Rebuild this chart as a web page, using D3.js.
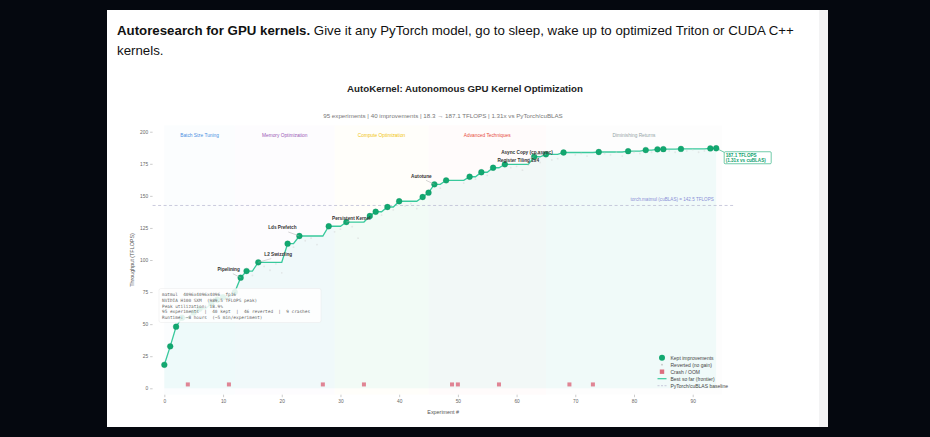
<!DOCTYPE html>
<html>
<head>
<meta charset="utf-8">
<script src="https://cdn.jsdelivr.net/npm/d3@7"></script>
<style>
  html, body { margin: 0; padding: 0; background: #05080f; }
  svg { display: block; }
</style>
</head>
<body>
<div id="chart"></div>
<script>
// ---- data ----
var keptExp = [0, 1, 2, 3, 5, 6, 8, 9, 10, 12, 13, 14, 16, 21, 23, 28, 31, 35, 36, 38,
  40, 44, 45, 46, 48, 52, 54, 56, 58, 63, 65, 68, 74, 79, 82, 84, 85, 88, 93, 94];
var keptVal = [18.3, 32.7, 48.0, 55, 59, 62, 66, 69, 71, 75, 86.2, 91.4, 98.2, 112.7, 118.7, 126.3, 129.6, 134.3, 137.6, 141.3,
  145.8, 149.1, 152.5, 159.0, 162.1, 164.9, 168.4, 171.9, 174.6, 180.5, 182.4, 183.8, 184.2, 184.8, 185.7, 186.3, 186.4, 186.6, 187.0, 187.1];

var revertedExp = [7, 15, 17, 18, 19, 20, 22, 24, 25, 26, 29, 30, 32, 33, 37, 39, 41, 42, 43, 47,
  51, 53, 55, 59, 60, 61, 62, 64, 66, 67, 70, 71, 72, 75, 76, 77, 78, 80, 81, 83, 86, 87, 89, 90, 91, 92];
var revertedVal = [60, 88, 95, 92, 97, 90, 110, 115, 117, 112, 122, 124, 126, 117, 135, 139, 142, 144, 140, 156,
  160, 163, 166, 172, 173, 170, 174, 176, 178, 179, 182, 183, 181, 183, 182, 184, 181, 184, 183, 184, 185, 184, 185, 186, 184, 185];

var crashExp = [4, 11, 27, 34, 49, 50, 57, 69, 73];
var crashLevel = 3;

var baselineVal = 142.5;
var totalExp = 95;

var phaseNames = ["Batch Size Tuning", "Memory Optimization", "Compute Optimization", "Advanced Techniques", "Diminishing Returns"];
var phaseStart = [0, 12, 29, 45, 65];
var phaseEnd = [12, 29, 45, 65, 95];

var annotExp = [13, 16, 23, 31, 46, 63, 65];
var annotText = ["Pipelining", "L2 Swizzling", "Lds Prefetch", "Persistent Kernel", "Autotune", "Register Tiling 2x4", "Async Copy (cp.async)"];

var xTicks = [0, 10, 20, 30, 40, 50, 60, 70, 80, 90];
var yTicks = [0, 25, 50, 75, 100, 125, 150, 175, 200];

var infoLines = [
  "matmul  4096x4096x4096  fp16",
  "NVIDIA H100 SXM  (989.5 TFLOPS peak)",
  "Peak utilization: 18.9%",
  "95 experiments  |  40 kept  |  46 reverted  |  9 crashes",
  "Runtime: ~8 hours  (~5 min/experiment)"
];

var legendLabels = ["Kept improvements", "Reverted (no gain)", "Crash / OOM", "Best so far (frontier)", "PyTorch/cuBLAS baseline"];

// ---- styles / layout ----
var phaseColors = ["#4a90e2", "#9b59b6", "#f1c40f", "#e74c3c", "#95a5a6"];
var green = "#12a870";
var lineGreen = "#38c99c";
var fillCyan = "#5fd6d2";
var crashRed = "#d9536a";
var sans = "'Liberation Sans', Arial, sans-serif";
var mono = "'DejaVu Sans Mono', 'Liberation Mono', monospace";

// label offsets from the annotated point (px)
var annotOffset = [[-12, -8.5], [20, -8], [-17, -8.5], [5, -3.5], [-13, -8.5], [-16, 4], [-19, -1.6]];

var svgWidth = 930;
var svgHeight = 437;

var svg = d3.select("#chart")
  .append("svg")
  .attr("width", svgWidth)
  .attr("height", svgHeight);

svg.append("rect")
  .attr("width", svgWidth).attr("height", svgHeight)
  .attr("fill", "#05080f");

// white card
svg.append("rect")
  .attr("x", 107).attr("y", 10)
  .attr("width", 721).attr("height", 417)
  .attr("fill", "#ffffff");
svg.append("rect")
  .attr("x", 819).attr("y", 10)
  .attr("width", 9).attr("height", 417)
  .attr("fill", "#f3f3f4");

function fitWidth(sel, w) {
  var len = sel.node().getComputedTextLength();
  var fs = parseFloat(sel.attr("font-size"));
  sel.attr("font-size", fs * w / len);
}

// header text
var head = svg.append("text")
  .attr("x", 117).attr("y", 34.5)
  .attr("font-family", sans)
  .attr("font-size", 15)
  .attr("fill", "#111");
head.append("tspan").attr("font-weight", "bold").text("Autoresearch for GPU kernels.");
head.append("tspan").text(" Give it any PyTorch model, go to sleep, wake up to optimized Triton or CUDA C++");
fitWidth(head, 678);

svg.append("text")
  .attr("x", 117).attr("y", 54.5)
  .attr("font-family", sans)
  .attr("font-size", head.attr("font-size"))
  .attr("fill", "#111")
  .text("kernels.");

// chart title + subtitle
var title = svg.append("text")
  .attr("x", 465).attr("y", 91.5)
  .attr("text-anchor", "middle")
  .attr("font-family", sans)
  .attr("font-weight", "bold")
  .attr("font-size", 10)
  .attr("fill", "#222")
  .text("AutoKernel: Autonomous GPU Kernel Optimization");
fitWidth(title, 236);

var subtitle = svg.append("text")
  .attr("x", 443).attr("y", 118)
  .attr("text-anchor", "middle")
  .attr("font-family", sans)
  .attr("font-size", 5.3)
  .attr("fill", "#777")
  .text("95 experiments  |  40 improvements  |  18.3 \u2192 187.1 TFLOPS  |  1.31x vs PyTorch/cuBLAS");
fitWidth(subtitle, 240);

// scales
var x = d3.scaleLinear().domain([-2, 97]).range([152.6, 733.8]);
var y = d3.scaleLinear().domain([-5, 205]).range([394.7, 125.3]);

var plot = svg.append("g");

// phase spans
var phases = phaseNames.map(function(n, i) {
  return { name: n, start: phaseStart[i], end: phaseEnd[i], color: phaseColors[i] };
});

plot.selectAll("rect.phase")
  .data(phases)
  .enter()
  .append("rect")
  .attr("class", "phase")
  .attr("x", d => x(d.start))
  .attr("width", d => x(d.end) - x(d.start))
  .attr("y", y(205))
  .attr("height", y(-5) - y(205))
  .attr("fill", d => d.color)
  .attr("opacity", 0.018);

plot.selectAll("text.phase")
  .data(phases)
  .enter()
  .append("text")
  .attr("class", "phase")
  .attr("x", d => x((d.start + d.end) / 2))
  .attr("y", y(197) + 1.8)
  .attr("text-anchor", "middle")
  .attr("font-family", sans)
  .attr("font-size", 4.8)
  .attr("fill", d => d.color)
  .text(d => d.name);

// best-so-far frontier
var kept = keptExp.map((e, i) => ({ exp: e, val: keptVal[i] }));
var frontier = [];
var best = -Infinity;
for (var i = 0; i < totalExp; i++) {
  var k = kept.find(d => d.exp === i);
  if (k && k.val > best) best = k.val;
  frontier.push({ exp: i, val: best });
}

plot.append("path")
  .datum(frontier)
  .attr("fill", fillCyan)
  .attr("opacity", 0.08)
  .attr("d", d3.area().x(d => x(d.exp)).y0(y(0)).y1(d => y(d.val)));

// baseline
plot.append("line")
  .attr("x1", x(-2)).attr("x2", x(97))
  .attr("y1", y(baselineVal)).attr("y2", y(baselineVal))
  .attr("stroke", "#b4b4cf")
  .attr("stroke-width", 0.7)
  .attr("stroke-dasharray", "3,2.5");

plot.append("text")
  .attr("x", x(86.5)).attr("y", y(baselineVal) - 4.5)
  .attr("text-anchor", "middle")
  .attr("font-family", sans)
  .attr("font-size", 4.6)
  .attr("fill", "#8a8fd6")
  .text("torch.matmul (cuBLAS) = 142.5 TFLOPS");

plot.append("path")
  .datum(frontier)
  .attr("fill", "none")
  .attr("stroke", lineGreen)
  .attr("stroke-width", 1.3)
  .attr("d", d3.line().x(d => x(d.exp)).y(d => y(d.val)));

// reverted
var reverted = revertedExp.map((e, i) => ({ exp: e, val: revertedVal[i] }));
plot.selectAll("circle.rev")
  .data(reverted)
  .enter()
  .append("circle")
  .attr("class", "rev")
  .attr("cx", d => x(d.exp))
  .attr("cy", d => y(d.val))
  .attr("r", 0.9)
  .attr("fill", "#d0d0d0")
  .attr("opacity", 0.45);

// crashes
plot.selectAll("rect.crash")
  .data(crashExp)
  .enter()
  .append("rect")
  .attr("class", "crash")
  .attr("x", d => x(d) - 2)
  .attr("y", y(crashLevel) - 2)
  .attr("width", 4).attr("height", 4)
  .attr("fill", crashRed)
  .attr("opacity", 0.7);

// kept points
plot.selectAll("circle.kept")
  .data(kept)
  .enter()
  .append("circle")
  .attr("class", "kept")
  .attr("cx", d => x(d.exp))
  .attr("cy", d => y(d.val))
  .attr("r", 2.9)
  .attr("fill", green)
  .attr("stroke", "#0d8f5e")
  .attr("stroke-width", 0.3);

// annotations
annotExp.forEach(function(e, i) {
  var k = kept.find(d => d.exp === e);
  var px = x(k.exp), py = y(k.val);
  var lx = px + annotOffset[i][0], ly = py + annotOffset[i][1];
  plot.append("line")
    .attr("x1", lx + (px - lx) * 0.35).attr("y1", ly + (py - ly) * 0.35 + 1.5)
    .attr("x2", px).attr("y2", py)
    .attr("stroke", "#aaa")
    .attr("stroke-width", 0.5);
  plot.append("text")
    .attr("x", lx).attr("y", ly + 1.7)
    .attr("text-anchor", "middle")
    .attr("font-family", sans)
    .attr("font-weight", "bold")
    .attr("font-size", 4.7)
    .attr("fill", "#333")
    .text(annotText[i]);
});

// final value callout
var last = kept[kept.length - 1];
var fx = x(last.exp), fy = y(last.val);
plot.append("line")
  .attr("x1", fx).attr("y1", fy)
  .attr("x2", fx + 8).attr("y2", fy + 4)
  .attr("stroke", green).attr("stroke-width", 0.6);
plot.append("rect")
  .attr("x", fx + 8).attr("y", fy + 3.5)
  .attr("width", 47).attr("height", 12)
  .attr("fill", "#fff")
  .attr("stroke", green).attr("stroke-width", 0.6)
  .attr("rx", 1);
plot.append("text")
  .attr("x", fx + 9.5).attr("y", fy + 8.6)
  .attr("font-family", sans).attr("font-weight", "bold")
  .attr("font-size", 4.6).attr("fill", "#0e9f6e")
  .text(last.val.toFixed(1) + " TFLOPS");
plot.append("text")
  .attr("x", fx + 9.5).attr("y", fy + 14)
  .attr("font-family", sans).attr("font-weight", "bold")
  .attr("font-size", 4.6).attr("fill", "#0e9f6e")
  .text("(" + (last.val / baselineVal).toFixed(2) + "x vs cuBLAS)");

// axes
var xAxis = plot.append("g")
  .attr("transform", `translate(0, ${y(-5)})`)
  .call(d3.axisBottom(x).tickValues(xTicks).tickSize(2.5).tickPadding(2));
var yAxis = plot.append("g")
  .attr("transform", `translate(${x(-2)}, 0)`)
  .call(d3.axisLeft(y).tickValues(yTicks).tickSize(2.5).tickPadding(2));

[xAxis, yAxis].forEach(function(a) {
  a.select(".domain").remove();
  a.selectAll(".tick line").attr("stroke", "#999").attr("stroke-width", 0.5);
  a.selectAll(".tick text")
    .attr("font-family", sans)
    .attr("font-size", 4.8)
    .attr("fill", "#666");
});

plot.append("text")
  .attr("x", (x(-2) + x(97)) / 2).attr("y", 413.5)
  .attr("text-anchor", "middle")
  .attr("font-family", sans).attr("font-size", 5.4)
  .attr("fill", "#555")
  .text("Experiment #");

plot.append("text")
  .attr("transform", `translate(134, ${y(100)}) rotate(-90)`)
  .attr("text-anchor", "middle")
  .attr("font-family", sans).attr("font-size", 5.4)
  .attr("fill", "#555")
  .text("Throughput (TFLOPS)");

// info box
plot.append("rect")
  .attr("x", 159).attr("y", 288.5)
  .attr("width", 162).attr("height", 34)
  .attr("rx", 2)
  .attr("fill", "#fff").attr("opacity", 0.88)
  .attr("stroke", "#e2e2e2").attr("stroke-width", 0.4);

plot.selectAll("text.info")
  .data(infoLines)
  .enter()
  .append("text")
  .attr("class", "info")
  .attr("x", 162)
  .attr("y", (d, i) => 296 + i * 5.8)
  .attr("font-family", mono)
  .attr("font-size", 4.4)
  .attr("fill", "#666")
  .attr("xml:space", "preserve")
  .style("white-space", "pre")
  .text(d => d);

// legend
var legend = plot.append("g").attr("transform", "translate(662, 357.7)");
var rows = legend.selectAll("g")
  .data(legendLabels)
  .enter()
  .append("g")
  .attr("transform", (d, i) => `translate(0, ${i * 7})`);

rows.append("text")
  .attr("x", 8.5).attr("y", 1.8)
  .attr("font-family", sans).attr("font-size", 5)
  .attr("fill", "#444")
  .text(d => d);

legend.append("circle").attr("cx", 0).attr("cy", 0).attr("r", 3).attr("fill", green);
legend.append("circle").attr("cx", 0).attr("cy", 7).attr("r", 0.9).attr("fill", "#c4c4c4");
legend.append("rect").attr("x", -2.2).attr("y", 14 - 2.2).attr("width", 4.4).attr("height", 4.4)
  .attr("fill", crashRed).attr("opacity", 0.85);
legend.append("line").attr("x1", -4.5).attr("x2", 4.5).attr("y1", 21).attr("y2", 21)
  .attr("stroke", lineGreen).attr("stroke-width", 1.2);
legend.append("line").attr("x1", -4.5).attr("x2", 4.5).attr("y1", 28).attr("y2", 28)
  .attr("stroke", "#b4b4cf").attr("stroke-width", 0.7).attr("stroke-dasharray", "2,1.5");
</script>
</body>
</html>
